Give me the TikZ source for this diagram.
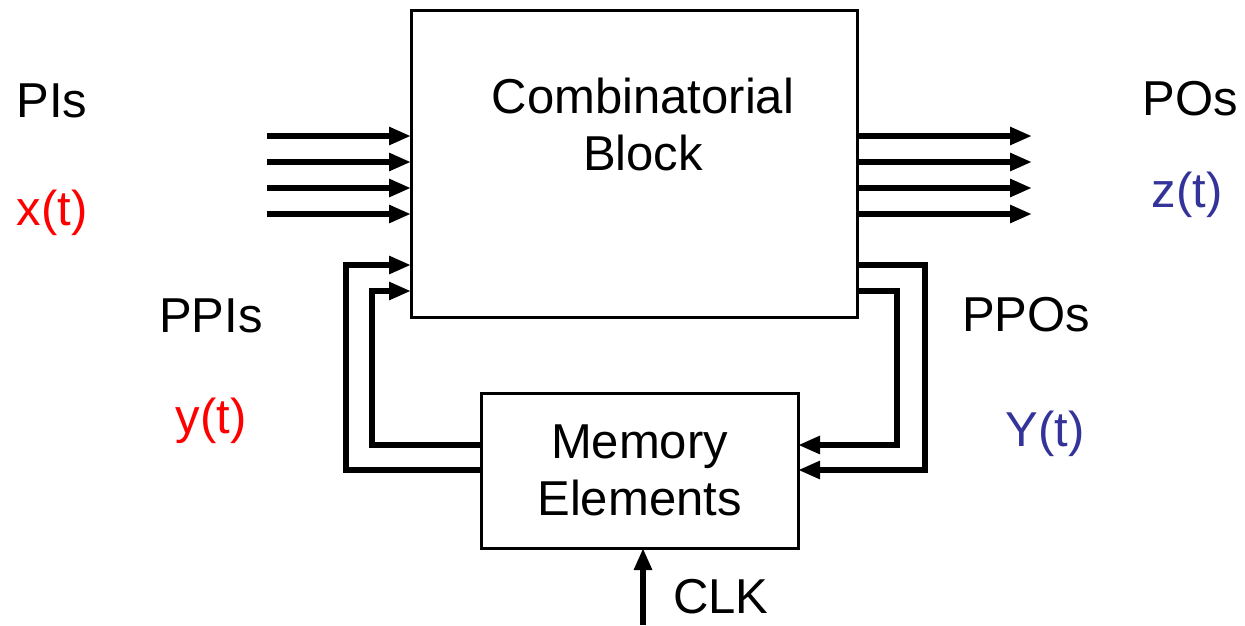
\documentclass[tikz,border=0pt]{standalone}
\usepackage{fontspec}
\setmainfont{Liberation Sans}
\usepackage{xcolor}
\usetikzlibrary{arrows.meta,positioning}
\definecolor{sigred}{RGB}{255,0,0}
\definecolor{sigblue}{RGB}{51,51,153}
\tikzset{
  block/.style={draw, line width=3pt, outer sep=0pt, inner sep=0pt, fill=white},
  line/.style={-{Triangle[length=22pt,width=17pt]}, line width=6pt},
  wire/.style={line width=6pt},
  lbl/.style={anchor=base, inner sep=0pt, font=\fontsize{49}{55}\selectfont},
  boxtext/.style={align=center, inner sep=0pt, font=\fontsize{49}{57}\selectfont}
}

\begin{document}
\begin{tikzpicture}[x=1pt, y=-1pt]
  \useasboundingbox (0,0) rectangle (1245,625);

  \node[block, minimum width=446pt, minimum height=307pt] (comb) at (634,163.5) {};
  \node[boxtext] (combtext) at (643,124) {Combinatorial\\Block};
  \node[block, minimum width=317pt, minimum height=155pt, boxtext] (mem) at (639.5,470.5) {Memory\\Elements};

  % primary inputs and outputs
  \foreach \y [count=\i] in {136,162,188,214} {
    \coordinate (pi\i) at (267,\y);
    \coordinate (po\i) at (1032,\y);
    \draw[line] (pi\i) -- (comb.west |- pi\i);
    \draw[line] (comb.east |- po\i) -- (po\i);
  }

  % feedback loops
  \coordinate (ppi1) at (346,265);
  \coordinate (ppi2) at (372,291);
  \coordinate (ppo1) at (925,265);
  \coordinate (ppo2) at (897,291);
  \coordinate (st1) at (0,470);
  \coordinate (st2) at (0,445);
  \draw[line] (mem.west |- st1) -| (ppi1) -- (comb.west |- ppi1);
  \draw[line] (mem.west |- st2) -| (ppi2) -- (comb.west |- ppi2);
  \draw[line] (comb.east |- ppo1) -| (ppo1 |- st1) -- (mem.east |- st1);
  \draw[line] (comb.east |- ppo2) -| (ppo2 |- st2) -- (mem.east |- st2);

  % clock
  \coordinate (clk) at (643,625);
  \draw[line] (clk) -- (mem.south -| clk);

  % labels
  \node[lbl] (pis) at (52,117) {PIs};
  \node[lbl, text=sigred] (xt) at (52,225) {x(t)};
  \node[lbl] (ppis) at (211,332) {PPIs};
  \node[lbl, text=sigred] (yt) at (211,433) {y(t)};
  \node[lbl] (pos) at (1190,115) {POs};
  \node[lbl, text=sigblue] (zt) at (1187,207) {z(t)};
  \node[lbl] (ppos) at (1026,331) {PPOs};
  \node[lbl, text=sigblue] (Yt) at (1045,446) {Y(t)};
  \node[lbl] (clklbl) at (721,613) {CLK};
\end{tikzpicture}
\end{document}
